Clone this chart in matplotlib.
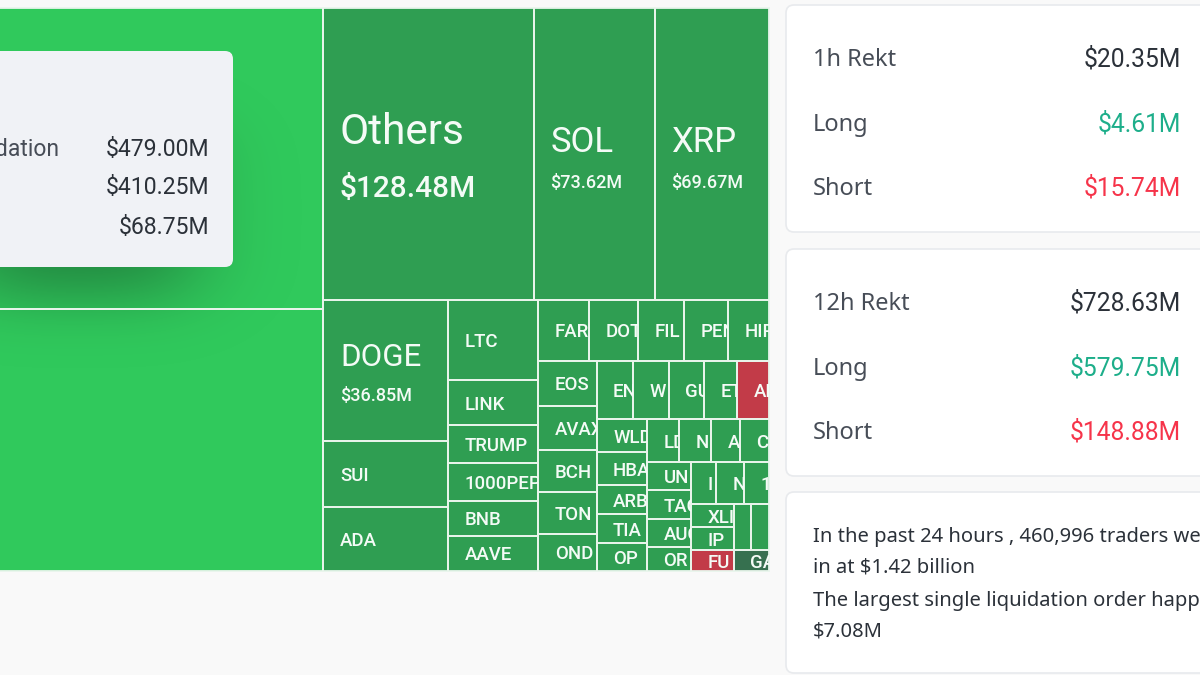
import math
import numpy as np
import matplotlib
matplotlib.use("Agg")
import matplotlib.pyplot as plt
from matplotlib.patches import Rectangle, FancyBboxPatch

# ---- data ----
names = ["BTC", "ETH", "Others", "SOL", "XRP", "DOGE", "SUI", "ADA",
         "LTC", "LINK", "TRUMP", "1000PEP", "BNB", "AAVE",
         "FAR", "DOT", "FIL", "PEN", "HIP",
         "EOS", "AVAX", "BCH", "TON", "OND",
         "EN", "W", "GU", "ET", "AL",
         "WLD", "HBA", "ARB", "TIA", "OP",
         "LD", "N", "A", "C",
         "UN", "TAC", "AUC", "OR",
         "I", "N", "1",
         "XLI", "IP", "FU", "", "", "GA"]
values = [479.00, 416.7, 128.48, 73.62, 69.67, 36.85, 17.45, 16.67,
          15.13, 8.51, 7.18, 7.00, 6.62, 6.62,
          6.54, 6.28, 5.89, 5.64, 5.25,
          5.48, 5.36, 5.12, 5.12, 4.51,
          4.39, 4.39, 4.26, 4.02, 3.90,
          3.47, 3.47, 3.05, 3.05, 2.94,
          2.89, 2.89, 2.62, 2.62,
          2.59, 2.68, 2.59, 2.22,
          2.21, 2.47, 2.21,
          2.03, 2.03, 1.85, 1.64, 1.74, 1.54]
shown_values = {"Others": "$128.48M", "SOL": "$73.62M", "XRP": "$69.67M", "DOGE": "$36.85M"}
red_cells = ["AL", "FU"]
dark_cells = ["GA"]
bright_cells = ["BTC", "ETH"]

tooltip_label = "dation"
tooltip_values = ["$479.00M", "$410.25M", "$68.75M"]

panel_rows = [("1h Rekt", "$20.35M"), ("Long", "$4.61M"), ("Short", "$15.74M")]
panel_rows_12h = [("12h Rekt", "$728.63M"), ("Long", "$579.75M"), ("Short", "$148.88M")]
summary_lines = ["In the past 24 hours , 460,996 traders we",
                 "in at $1.42 billion",
                 "The largest single liquidation order happ",
                 "$7.08M"]

# ---- treemap shape: 'h' side by side, 'v' stacked; leaves are taken in order ----
counter = iter(range(len(values)))
def L(n):
    return [next(counter) for _ in range(n)]

left = ("v", L(2))
top = ("h", L(3))
col_a = ("v", L(3))
col_b = ("v", L(6))
row1 = ("h", L(5))
col_c = ("v", L(5))
row2 = ("h", L(5))
col_d = ("v", L(5))
row3 = ("h", L(4))
col_e = ("v", L(4))
row4 = ("h", L(3))
col_f = ("v", L(3))
pair = ("h", L(2))
last = L(1)
corner = ("h", [col_f, ("v", [pair] + last)])
inner4 = ("v", [row4, corner])
inner3 = ("h", [col_e, inner4])
inner2 = ("v", [row3, inner3])
inner1 = ("h", [col_d, inner2])
inner0 = ("v", [row2, inner1])
lower_r = ("v", [row1, ("h", [col_c, inner0])])
lower = ("h", [col_a, col_b, lower_r])
right = ("v", [top, lower])
tree = ("h", [left, right])

def total(node):
    if isinstance(node, int):
        return values[node]
    return sum(total(c) for c in node[1])

rects = {}
def layout(node, x0, y0, x1, y1):
    if isinstance(node, int):
        rects[node] = (x0, y0, x1, y1)
        return
    orient, kids = node
    t = total(node)
    pos = x0 if orient == "h" else y0
    for k in kids:
        share = total(k) / t
        if orient == "h":
            nxt = pos + share * (x1 - x0)
            layout(k, pos, y0, nxt, y1)
        else:
            nxt = pos + share * (y1 - y0)
            layout(k, x0, pos, x1, nxt)
        pos = nxt

# ---- styles ----
PAGE = "#F9F9F9"
GREEN = "#2F9E52"
BRIGHT = "#30C95C"
RED = "#C23B48"
DARK = "#36704F"
INK = "#474D57"
FONT = ["Roboto", "DejaVu Sans"]
PANEL_FONT = ["Noto Sans", "DejaVu Sans"]

fig = plt.figure(figsize=(12, 6.75), dpi=100, facecolor=PAGE)
ax = fig.add_axes([0, 0, 1, 1])
ax.set_xlim(0, 1200)
ax.set_ylim(675, 0)
ax.axis("off")

layout(tree, -437, 8, 769, 571)

def colour(n):
    if n in bright_cells:
        return BRIGHT
    if n in red_cells:
        return RED
    if n in dark_cells:
        return DARK
    return GREEN

for i, n in enumerate(names):
    x0, y0, x1, y1 = rects[i]
    ax.add_patch(Rectangle((x0, y0), x1 - x0, y1 - y0, fc=colour(n), ec="none", zorder=1))

# soft shadow of the tooltip over the bright cells
x_edge = rects[0][2]
xs = np.arange(0, int(x_edge)) + 0.5
ys = np.arange(8, 571) + 0.5
erf = np.vectorize(math.erf)
sx, sy = 45.0 * math.sqrt(2), 30.0 * math.sqrt(2)
gx = 0.5 * (erf((xs + 30) / sx) - erf((xs - 190) / sx))
gy = 0.5 * (erf((ys - 130) / sy) - erf((ys - 294) / sy))
alpha = 0.60 * np.outer(gy, gx)
img = np.zeros((len(ys), len(xs), 4))
img[..., 0], img[..., 1], img[..., 2] = 0.10, 0.35, 0.18
img[..., 3] = alpha
ax.imshow(img, extent=(0, int(x_edge), 571, 8), origin="upper", aspect="auto", zorder=2, interpolation="bilinear")
ax.set_xlim(0, 1200)
ax.set_ylim(675, 0)

for i, n in enumerate(names):
    x0, y0, x1, y1 = rects[i]
    cell = Rectangle((x0, y0), x1 - x0, y1 - y0, fc="none", ec="#E9F5EC", lw=1.3, zorder=3)
    ax.add_patch(cell)
    if n in bright_cells or not n:
        continue
    cy = (y0 + y1) / 2
    tx = x0 + 16.5
    weight = "normal"
    if n == "Others":
        name_fs, val_fs, dy1, dy2 = 30.5, 21.5, -21, 35
    elif n in ("SOL", "XRP"):
        name_fs, val_fs, dy1, dy2 = 25, 13, -11.5, 29
    elif n == "DOGE":
        name_fs, val_fs, dy1, dy2 = 22.5, 13, -12.5, 25.5
    else:
        name_fs, val_fs, dy1, dy2 = 13.4, 0, 2, 0
        weight = "medium"
    t = ax.text(tx, cy + dy1, n, color="#F4FBF6", fontsize=name_fs, family=FONT,
                fontweight=weight, ha="left", va="center", zorder=4, clip_on=True)
    t.set_clip_path(cell)
    if n in shown_values:
        ax.text(tx, cy + dy2, shown_values[n], color="#F4FBF6", fontsize=val_fs,
                family=FONT, fontweight="medium", ha="left", va="center", zorder=4)

# tooltip card
ax.add_patch(FancyBboxPatch((-60, 51), 293, 216, boxstyle="round,pad=0,rounding_size=8",
                            fc="#F0F2F6", ec="none", zorder=5))
ax.text(59, 150, tooltip_label, color=INK, fontsize=16.5, family=FONT, ha="right", va="center", zorder=6)
for yy, v in zip((150, 188, 227), tooltip_values):
    ax.text(209, yy, v, color="#2B3139", fontsize=16.6, family=FONT, ha="right", va="center", zorder=6)

# right-hand cards
def card(y0, y1):
    ax.add_patch(FancyBboxPatch((786, y0), 470, y1 - y0, boxstyle="round,pad=0,rounding_size=8",
                                fc="white", ec="#E8EAED", lw=1.2, zorder=1))

GREEN_T = "#1DAE8A"
RED_T = "#F6344A"
for (y0, y1, rows, ys_row) in ((5, 232, panel_rows, (60, 125, 189)),
                               (249, 476, panel_rows_12h, (304, 369, 433))):
    card(y0, y1)
    cols = ("#2B3139", GREEN_T, RED_T)
    for j, ((lab, val), yy) in enumerate(zip(rows, ys_row)):
        ax.text(813, yy, lab, color=INK, fontsize=17, family=PANEL_FONT,
                fontweight="semibold" if j == 0 else "normal", ha="left", va="center", zorder=2)
        ax.text(1181, yy - 1, val, color=cols[j], fontsize=17.7, family=FONT, ha="right", va="center", zorder=2)

card(492, 673)
for yy, s in zip((537, 568, 601, 632), summary_lines):
    ax.text(813, yy, s, color="#2B3139", fontsize=14.5, family=PANEL_FONT, ha="left", va="center", zorder=2)

fig.savefig("out.png", dpi=100, facecolor=PAGE)
